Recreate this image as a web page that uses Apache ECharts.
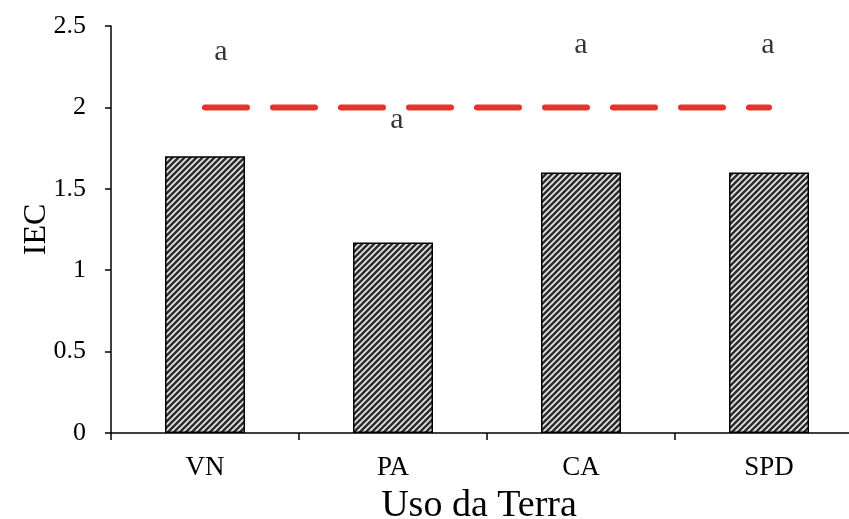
<!DOCTYPE html>
<html>
<head>
<meta charset="utf-8">
<script src="https://cdn.jsdelivr.net/npm/echarts@6/dist/echarts.min.js"></script>
<style>html,body{margin:0;padding:0;background:#fff;}#c{width:849px;height:519px;}</style>
</head>
<body>
<div id="c"></div>
<script>
var categories = ['VN', 'PA', 'CA', 'SPD'];
var iecValues = [1.70, 1.17, 1.60, 1.60];
var referenceLine = [2, 2, 2, 2];
var letters = ['a', 'a', 'a', 'a'];
var letterHeights = [2.34, 1.92, 2.38, 2.38];
var yTicks = [0, 0.5, 1, 1.5, 2, 2.5];

function makeHatch() {
  var s = 6;
  var cv = document.createElement('canvas');
  cv.width = s; cv.height = s;
  var ctx = cv.getContext('2d');
  ctx.fillStyle = '#e8e8e8';
  ctx.fillRect(0, 0, s, s);
  ctx.strokeStyle = '#2e2e2e';
  ctx.lineWidth = 2.6;
  ctx.beginPath();
  ctx.moveTo(-1, s + 1); ctx.lineTo(s + 1, -1);
  ctx.moveTo(-s / 2 - 1, s / 2 + 1); ctx.lineTo(s / 2 + 1, -s / 2 - 1);
  ctx.moveTo(s / 2 - 1, s * 1.5 + 1); ctx.lineTo(s * 1.5 + 1, s / 2 - 1);
  ctx.stroke();
  return cv;
}

var letterOffsets = [[16, 0], [4, 0], [0, 0], [-1, 0]];
var font = 'Liberation Serif';
var chart = echarts.init(document.getElementById('c'));
chart.setOption({
  animation: false,
  grid: { left: 111, right: -14, top: 26, bottom: 86, outerBoundsMode: 'none' },
  xAxis: {
    type: 'category',
    data: categories,
    name: 'Uso da Terra',
    nameLocation: 'middle',
    nameGap: 54,
    nameMoveOverlap: false,
    nameTextStyle: { fontFamily: font, fontSize: 38, color: '#000', padding: [0, 16, 0, 0] },
    axisLine: { lineStyle: { color: '#000', width: 1.5 } },
    axisTick: { show: true, length: 7, interval: 0, lineStyle: { color: '#000', width: 1.5 } },
    axisLabel: { fontFamily: font, fontSize: 27, color: '#000', margin: 21 }
  },
  yAxis: {
    type: 'value',
    min: 0, max: 2.5, interval: 0.5,
    name: 'IEC',
    nameLocation: 'middle',
    nameGap: 58,
    nameMoveOverlap: false,
    nameTextStyle: { fontFamily: font, fontSize: 32, color: '#000' },
    axisLine: { show: true, lineStyle: { color: '#000', width: 1.5 } },
    axisTick: { show: true, length: 6, lineStyle: { color: '#000', width: 1.5 } },
    splitLine: { show: false },
    axisLabel: {
      fontFamily: font, fontSize: 26, color: '#000', margin: 25,
      formatter: function (v) { return yTicks.indexOf(v) >= 0 ? String(v) : ''; }
    }
  },
  series: [
    {
      type: 'bar',
      data: iecValues,
      barWidth: 80,
      itemStyle: {
        color: { image: makeHatch(), repeat: 'repeat' },
        borderColor: '#000',
        borderWidth: 1.5
      },
      z: 2
    },
    {
      type: 'line',
      data: referenceLine,
      symbol: 'none',
      lineStyle: { color: '#e8322e', width: 6, type: [42, 26], cap: 'round' },
      z: 3
    },
    {
      type: 'scatter',
      data: letterHeights.map(function (h, i) {
        return {
          value: [i, h],
          label: { show: true, formatter: letters[i], offset: letterOffsets[i] }
        };
      }),
      symbolSize: 1,
      itemStyle: { color: 'rgba(0,0,0,0)' },
      label: { position: 'inside', fontFamily: font, fontSize: 30, color: '#000' },
      z: 4
    }
  ]
});
</script>
</body>
</html>
